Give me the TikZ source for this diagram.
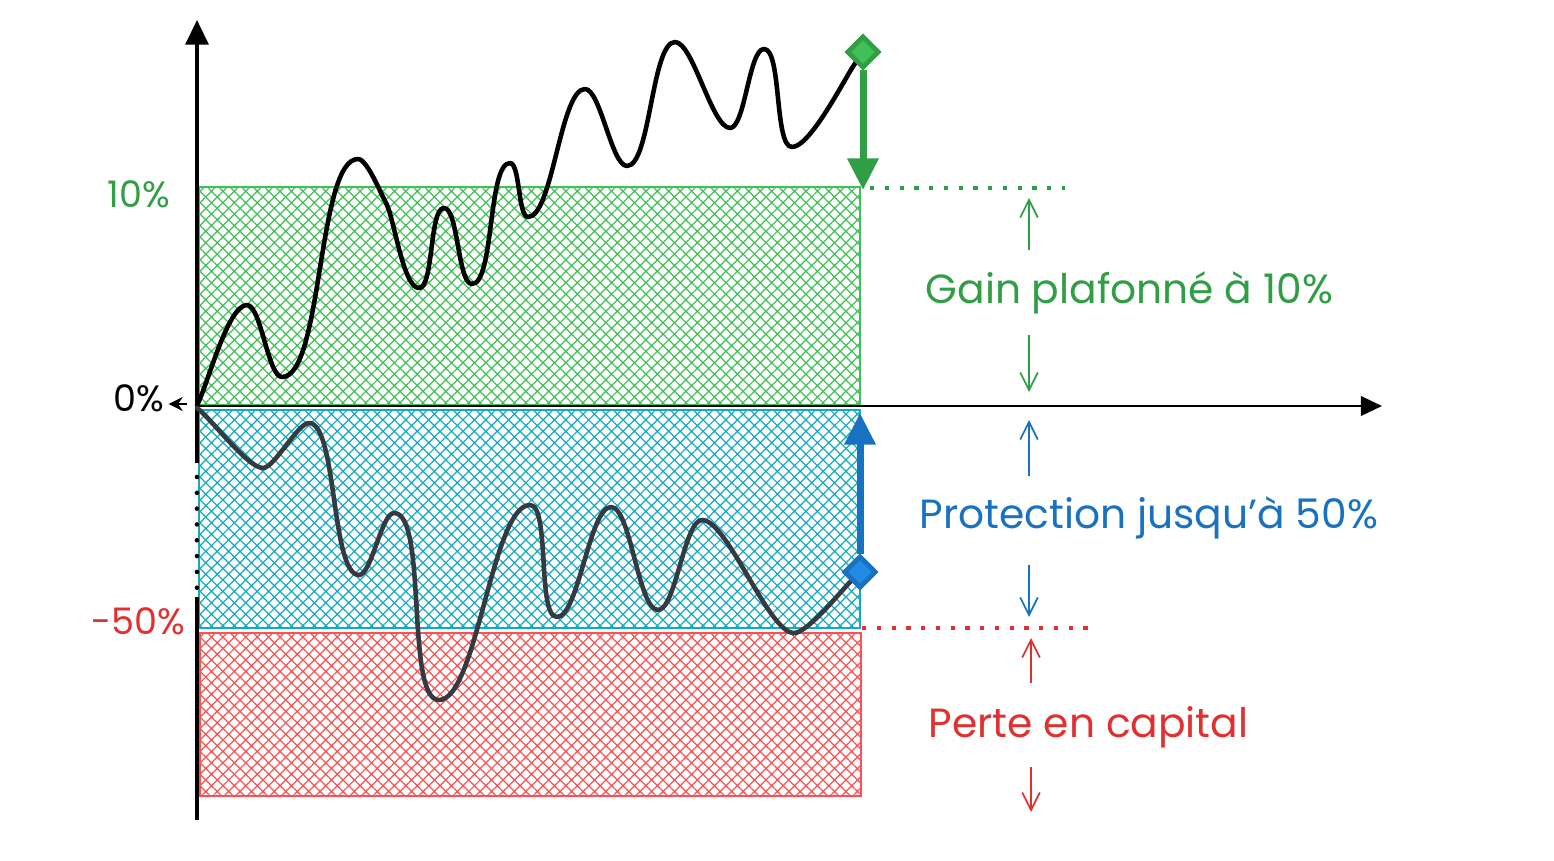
\documentclass[tikz,border=0pt]{standalone}
\usepackage{fontspec}
\setmainfont{Poppins}
\usetikzlibrary{arrows.meta, patterns.meta, shapes.geometric}
\definecolor{gaingreen}{RGB}{47, 158, 68}
\definecolor{gainlight}{RGB}{64, 192, 87}
\definecolor{protblue}{RGB}{25, 113, 194}
\definecolor{protlight}{RGB}{34, 139, 230}
\definecolor{protcyan}{RGB}{21, 170, 191}
\definecolor{lossred}{RGB}{224, 49, 49}
\definecolor{losslight}{RGB}{250, 82, 82}
\definecolor{curvegrey}{RGB}{52, 58, 64}

\begin{document}
\begin{tikzpicture}[
  zone/.style={line width=0.6pt, pattern={Hatch[angle=45, distance=2.3pt, line width=0.35pt]}},
  tag/.style={font=\fontsize{11.6}{13}\selectfont, inner sep=0pt, anchor=base west},
  axistag/.style={tag, font=\fontsize{10.4}{12}\selectfont},
  sidearrow/.style={line width=0.5pt, -{Straight Barb[length=5pt, width=5pt]}},
  bigarrow/.style={line width=2pt, -{Triangle[length=9pt, width=8.5pt]}},
  slider/.style={diamond, minimum size=0.32cm, inner sep=0pt, line width=1.3pt},
  pricecurve/.style={line width=1.3pt, line cap=round, line join=round, out=0, in=180, looseness=0.45},
  levelline/.style={line width=0.9pt, dash pattern=on 1.2pt off 3pt}
]
  \useasboundingbox (-1.97,-4.54) rectangle (13.57,4.06);

  % Zones
  \draw[zone, draw=gainlight, pattern color=gainlight] (0.02,0.01) rectangle (6.63,2.19);
  \draw[zone, draw=protcyan, pattern color=protcyan] (0.02,-0.04) rectangle (6.63,-2.22);
  \draw[zone, draw=losslight, pattern color=losslight] (0.03,-2.27) rectangle (6.64,-3.90);

  % Axes
  \coordinate (O) at (0,0);
  \coordinate (ytop) at (0,3.86);
  \coordinate (ybot) at (0,-4.14);
  \coordinate (xend) at (11.85,0);
  \draw[line width=1pt, -{Triangle[length=7pt, width=6.5pt]}] (0,-0.57) -- (ytop);
  \draw[line width=1.3pt, line cap=round, dash pattern=on 0pt off 4.5pt] (0,-0.71) -- (0,-1.84);
  \draw[line width=1pt] (0,-1.91) -- (ybot);
  \draw[line width=0.8pt, -{Triangle[length=6pt, width=5.5pt]}] (O) -- (xend);

  % Axis labels
  \node[axistag, text=gaingreen] (ten) at (-0.90,1.99) {10\%};
  \node[axistag] (zero) at (-0.84,-0.05) {0\%};
  \coordinate (zeroarr) at (-0.10,0.02);
  \draw[line width=0.8pt, -{Stealth[length=4pt, width=4pt]}] (zeroarr) -- ([xshift=1pt]zeroarr -| zero.east);
  \node[axistag, text=lossred] (fifty) at (-1.06,-2.28) {-50\%};

  % Price paths
  \node[slider, fill=gainlight, draw=gaingreen] (gknob) at (6.66,3.54) {};
  \node[slider, fill=protlight, draw=protblue] (bknob) at (6.63,-1.66) {};
  \draw[pricecurve, black] (0,0.01) to[out=60] (0.50,1.01) to (0.85,0.29) to (1.61,2.47)
    to[in=120] (1.89,2.03) to[out=-60] (2.22,1.18) to (2.47,1.98) to (2.75,1.22)
    to (3.13,2.43) to (3.31,1.89) to (3.88,3.17) to (4.30,2.40) to (4.78,3.64)
    to (5.33,2.78) to (5.67,3.57) to (5.95,2.59) to[in=-125] (gknob);
  \draw[pricecurve, curvegrey] (0,-0.02) to[out=-35] (0.66,-0.62) to (1.12,-0.17)
    to (1.62,-1.69) to (1.97,-1.07) to (2.42,-2.94) to (3.33,-0.99) to (3.60,-2.11)
    to (4.14,-1.01) to (4.61,-2.04) to (5.05,-1.14) to (5.97,-2.27) to[in=-135] (bknob);
  \node[slider, fill=gainlight, draw=gaingreen] at (gknob) {};
  \node[slider, fill=protlight, draw=protblue] at (bknob) {};

  % Cap and barrier
  \coordinate (gtip) at (6.66,2.16);
  \coordinate (btip) at (6.63,-0.07);
  \draw[bigarrow, gaingreen] (gknob) -- (gtip);
  \draw[bigarrow, protblue] (bknob) -- (btip);
  \coordinate (gdot1) at (6.73,2.18);
  \coordinate (gdot2) at (8.68,2.18);
  \coordinate (rdot1) at (6.65,-2.22);
  \coordinate (rdot2) at (8.91,-2.22);
  \draw[levelline, gaingreen] (gdot1) -- (gdot2);
  \draw[levelline, lossred] (rdot1) -- (rdot2);

  % Ranges
  \foreach \nm/\xa/\ya/\yb/\col in {gup/8.32/1.56/2.08/gaingreen, gdn/8.32/0.71/0.14/gaingreen,
      bup/8.32/-0.70/-0.14/protblue, bdn/8.32/-1.59/-2.11/protblue,
      rup/8.34/-2.77/-2.32/lossred, rdn/8.34/-3.61/-4.06/lossred} {
    \coordinate (\nm-a) at (\xa,\ya);
    \coordinate (\nm-b) at (\xa,\yb);
    \draw[sidearrow, \col] (\nm-a) -- (\nm-b);
  }
  \node[tag, text=gaingreen] (gain) at (7.28,1.03) {Gain plafonné à 10\%};
  \node[tag, text=protblue] (prot) at (7.22,-1.22) {Protection jusqu'à 50\%};
  \node[tag, text=lossred] (loss) at (7.31,-3.31) {Perte en capital};
\end{tikzpicture}
\end{document}
